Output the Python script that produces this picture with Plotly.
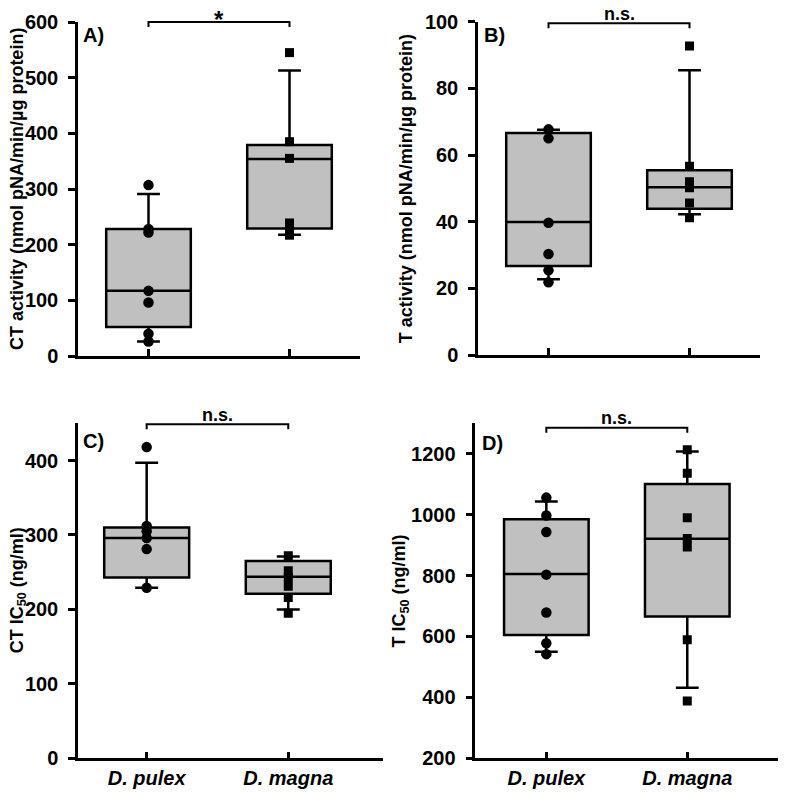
import plotly.graph_objects as go

# page body has an 8px margin: figure origin sits at (8, 8) in the window
OX, OY = 8, 8
W, H = 786 - OX, 792 - OY
categories = ["D. pulex", "D. magna"]

# ---- Panel A: CT activity ----
a_pulex_pts = [307, 228, 222, 117, 96, 40, 26]
a_magna_pts = [545, 385, 355, 239, 229, 217]
a_pulex_box = dict(q1=52, median=117, q3=228, lower=26, upper=291)
a_magna_box = dict(q1=229, median=354, q3=379, lower=218, upper=513)

# ---- Panel B: T activity ----
b_pulex_pts = [67.7, 65.0, 39.7, 30.3, 25.4, 21.8]
b_magna_pts = [92.7, 56.6, 52.0, 50.2, 45.6, 41.2]
b_pulex_box = dict(q1=26.7, median=39.9, q3=66.6, lower=22.7, upper=67.6)
b_magna_box = dict(q1=43.9, median=50.3, q3=55.4, lower=42.2, upper=85.4)

# ---- Panel C: CT IC50 ----
c_pulex_pts = [418, 312, 305, 296, 281, 229]
c_magna_pts = [272, 252, 243, 231, 216, 195]
c_pulex_box = dict(q1=243, median=296, q3=310, lower=229, upper=397)
c_magna_box = dict(q1=221, median=244, q3=265, lower=200, upper=271)

# ---- Panel D: T IC50 ----
d_pulex_pts = [1056, 997, 943, 803, 679, 578, 542]
d_magna_pts = [1213, 1136, 990, 922, 894, 589, 388]
d_pulex_box = dict(q1=605, median=805, q3=985, lower=550, upper=1043)
d_magna_box = dict(q1=666, median=921, q3=1101, lower=432, upper=1207)

y_titles = ["CT activity (nmol pNA/min/µg protein)",
            "T activity (nmol pNA/min/µg protein)",
            "CT IC<sub>50</sub> (ng/ml)",
            "T IC<sub>50</sub> (ng/ml)"]
panel_labels = ["A)", "B)", "C)", "D)"]
sig_labels = ["*", "n.s.", "n.s.", "n.s."]
y_ranges = [[0, 600], [0, 100], [0, 450], [200, 1300]]
y_dticks = [100, 20, 100, 200]

# window-pixel layout of each panel: (x_left, x_right, y_top, y_bottom, xrange)
panels = [
    (78, 360, 22, 356, [-0.5, 1.5]),
    (478, 760, 21.7, 355, [-0.5, 1.5]),
    (78, 383, 423.3, 758.3, [-0.485, 1.669]),
    (475.3, 781, 423.3, 758.3, [-0.504, 1.665]),
]
title_x = [17, 406, 18.5, 400.7]
label_pos = [(81, 22), (482, 22), (80.5, 428), (480, 430)]
bracket_y = [(1.0, 0.985), (0.995, 0.98), (0.997, 0.982), (0.987, 0.972)]
sig_y_px = [19, 14, 415, 418]
sig_size = [24, 18, 18, 18]
LW = 2.5


def px_x(px):
    return (px - OX) / W


def px_y(py):
    return 1 - (py - OY) / H


data = [
    (a_pulex_pts, a_magna_pts, a_pulex_box, a_magna_box),
    (b_pulex_pts, b_magna_pts, b_pulex_box, b_magna_box),
    (c_pulex_pts, c_magna_pts, c_pulex_box, c_magna_box),
    (d_pulex_pts, d_magna_pts, d_pulex_box, d_magna_box),
]

FONT = "Liberation Sans, Arial, sans-serif"
fig = go.Figure()
layout = dict(width=W, height=H, margin=dict(l=0, r=0, t=0, b=0, autoexpand=False),
              paper_bgcolor="white", plot_bgcolor="white",
              showlegend=False, boxmode="overlay",
              font=dict(family=FONT, color="black"))
annotations = []
shapes = []

for i, (pp, mp, pb, mb) in enumerate(data):
    n = "" if i == 0 else str(i + 1)
    xa, ya = "x" + n, "y" + n
    xl, xr, yt, yb, xrng = panels[i]
    for cat, b in zip(categories, (pb, mb)):
        fig.add_trace(go.Box(
            x=[cat], q1=[b["q1"]], median=[b["median"]], q3=[b["q3"]],
            lowerfence=[b["lower"]], upperfence=[b["upper"]],
            width=0.6, whiskerwidth=0.27, fillcolor="#c0c0c0",
            line=dict(color="black", width=LW), boxpoints=False,
            hoverinfo="skip", xaxis=xa, yaxis=ya))
    fig.add_trace(go.Scatter(x=[categories[0]] * len(pp), y=pp, mode="markers",
                             marker=dict(symbol="circle", size=10.5, color="black"),
                             xaxis=xa, yaxis=ya))
    fig.add_trace(go.Scatter(x=[categories[1]] * len(mp), y=mp, mode="markers",
                             marker=dict(symbol="square", size=9, color="black"),
                             xaxis=xa, yaxis=ya))
    show_lbl = i >= 2
    layout["xaxis" + n] = dict(
        domain=[px_x(xl), px_x(xr)], range=xrng, anchor=ya, automargin=False,
        type="category", categoryorder="array", categoryarray=categories,
        showline=True, linecolor="black", linewidth=LW,
        ticks="inside", ticklen=7, tickwidth=LW, tickcolor="black",
        showticklabels=show_lbl, showgrid=False, zeroline=False,
        tickfont=dict(family=FONT, size=20, weight="bold", style="italic"),
        fixedrange=True)
    layout["yaxis" + n] = dict(
        domain=[px_y(yb), px_y(yt)], range=y_ranges[i], anchor=xa,
        dtick=y_dticks[i], tick0=0, automargin=False, ticklabelstandoff=6,
        showline=True, linecolor="black", linewidth=LW,
        ticks="outside", ticklen=7, tickwidth=LW, tickcolor="black",
        showgrid=False, zeroline=False,
        tickfont=dict(family=FONT, size=20, weight="bold"),
        fixedrange=True)
    annotations.append(dict(
        text=y_titles[i], xref="paper", yref="paper",
        x=px_x(title_x[i]), y=px_y((yt + yb) / 2), textangle=-90,
        showarrow=False, xanchor="center", yanchor="middle",
        font=dict(family=FONT, size=18, weight="bold")))
    lx, ly = label_pos[i]
    annotations.append(dict(
        text=panel_labels[i], xref="paper", yref="paper",
        x=px_x(lx), y=px_y(ly), xanchor="left", yanchor="top", showarrow=False,
        font=dict(family=FONT, size=20, weight="bold")))
    by, bt = bracket_y[i]
    shapes.append(dict(type="path", xref=xa, yref=ya + " domain",
                       path=f"M 0,{bt} L 0,{by} L 1,{by} L 1,{bt}",
                       line=dict(color="black", width=2)))
    annotations.append(dict(
        text=sig_labels[i], xref=xa, yref="paper", x=0.5,
        y=px_y(sig_y_px[i]), xanchor="center", yanchor="middle",
        showarrow=False, font=dict(family=FONT, size=sig_size[i], weight="bold")))

layout["annotations"] = annotations
layout["shapes"] = shapes
fig.update_layout(**layout)
fig.write_html("out.html")
